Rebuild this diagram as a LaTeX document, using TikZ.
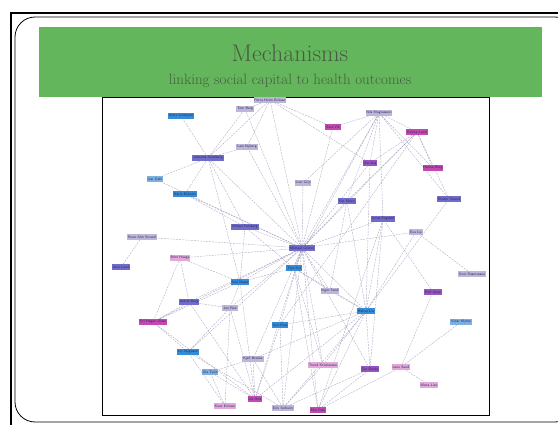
\documentclass[tikz,border=0pt]{standalone}
\usetikzlibrary{backgrounds}

\definecolor{banner}{RGB}{100,182,92}
\definecolor{titleclr}{RGB}{70,92,66}
\definecolor{pblue}{RGB}{52,140,215}
\definecolor{plblue}{RGB}{125,175,225}
\definecolor{plav}{RGB}{190,182,215}
\definecolor{ppurp}{RGB}{112,108,200}
\definecolor{pviol}{RGB}{150,84,190}
\definecolor{pmag}{RGB}{196,72,176}
\definecolor{ppink}{RGB}{226,168,216}
\definecolor{tieclr}{RGB}{145,138,175}
\definecolor{nametxt}{RGB}{40,40,95}

\begin{document}
\begin{tikzpicture}[x=1pt,y=-1pt,
  person/.style={rectangle,inner sep=.9pt,minimum height=6pt,font=\sffamily\fontsize{3.6}{4}\selectfont,text=nametxt},
  tie/.style={draw=tieclr,line width=.4pt,dash pattern=on 2pt off 1pt,opacity=.7}
]
\useasboundingbox (0,0) rectangle (558,425);

% slide frame
\draw[line width=1.8pt] (11,425) -- (11,13) -- (558,13);
\draw[line width=.8pt,rounded corners=20pt] (15,17) rectangle (575,422);

% network picture
\draw[line width=.9pt] (102,97) rectangle (489,415);

\node[person,fill=pblue]  (A) at (181,116) {Anna Lindqvist};
\node[person,fill=plav]   (B) at (245,109) {Tom Berg};
\node[person,fill=plav]   (C) at (270,100) {Petra Holm Eriksen};
\node[person,fill=plav]   (D) at (247,147) {Lars Nyberg};
\node[person,fill=ppurp]  (E) at (208,158) {Johanna Sandberg};
\node[person,fill=plblue] (F) at (155,179) {Ivar Dahl};
\node[person,fill=pblue]  (G) at (185,194) {Karin Ekholm};
\node[person,fill=ppurp]  (H) at (245,227) {Mikael Forsberg};
\node[person,fill=plav]   (I) at (142,237) {Rune Alm Strand};
\node[person,fill=plav]   (J) at (379,113) {Nils Magnusson};
\node[person,fill=pmag]   (K) at (333,127) {Sara Vik};
\node[person,fill=pmag]   (L) at (417,132) {Emma Lund};
\node[person,fill=pviol]  (M) at (370,163) {Ole Aas};
\node[person,fill=pmag]   (N) at (433,168) {Hanna Borg};
\node[person,fill=plav]   (O) at (303,183) {Linn Grip};
\node[person,fill=ppurp]  (P) at (347,201) {Per Moen};
\node[person,fill=ppurp]  (Q) at (449,199) {Kristin Strand};
\node[person,fill=ppurp]  (R) at (383,219) {Jonas Engdahl};
\node[person,fill=plav]   (S) at (416,232) {Eva Lie};
\node[person,fill=ppurp]  (T) at (302,248) {Michael Grimm};
\node[person,fill=ppink]  (U) at (180,258) {Britt Hauge};
\node[person,fill=ppurp]  (V) at (121,267) {Arne Lund};
\node[person,fill=pblue]  (W) at (294,268) {Tore Sol};
\node[person,fill=pblue]  (X) at (240,282) {Kari Nesse};
\node[person,fill=ppurp]  (Y) at (189,302) {Astrid Berg};
\node[person,fill=plav]   (Z) at (230,308) {Jon Rud};
\node[person,fill=pmag]   (a) at (153,322) {Siri Hagen Olsen};
\node[person,fill=pblue]  (b) at (280,325) {Geir Foss};
\node[person,fill=pblue]  (c) at (188,352) {Liv Nygaard};
\node[person,fill=plav]   (d) at (253,359) {Kjell Brekke};
\node[person,fill=plblue] (e) at (210,372) {Ola Tveit};
\node[person,fill=pmag]   (f) at (255,399) {Ida Holt};
\node[person,fill=ppink]  (g) at (225,406) {Knut Eriksen};
\node[person,fill=plav]   (h) at (283,408) {Erik Solheim};
\node[person,fill=pmag]   (i) at (318,410) {Mia Dale};
\node[person,fill=plav]   (j) at (472,274) {Unni Rasmussen};
\node[person,fill=pviol]  (k) at (433,292) {Rolf Aune};
\node[person,fill=plav]   (m) at (330,291) {Inger Sand};
\node[person,fill=pblue]  (l) at (366,311) {Halvor Lie};
\node[person,fill=plblue] (n) at (461,322) {Vidar Myhre};
\node[person,fill=ppink]  (o) at (323,365) {Trond Kristiansen};
\node[person,fill=pviol]  (p) at (370,369) {Gro Bakke};
\node[person,fill=ppink]  (q) at (401,367) {Lene Sund};
\node[person,fill=ppink]  (r) at (429,385) {Mona Lien};

\begin{pgfonlayer}{background}
\foreach \u/\v in {T/B,T/C,T/D,T/E,T/G,T/H,T/J,T/K,T/M,T/O,T/P,T/R,T/U,T/W,T/X,T/Y,
  T/Z,T/b,T/c,T/d,T/f,T/h,T/i,T/l,T/m,T/o,T/p,T/a,T/I,T/S,T/L,T/F,
  l/W,l/P,l/R,l/M,l/b,l/f,l/h,l/i,l/p,l/o,l/Q,l/S,l/d,l/m,
  J/M,J/K,J/L,J/P,J/O,J/N,J/Q,J/R,J/W,L/M,L/N,L/Q,L/P,L/b,
  E/B,E/C,E/D,E/G,E/F,E/H,E/X,E/A,C/B,C/D,C/K,C/M,
  f/Y,f/Z,f/d,f/e,f/b,f/X,f/a,h/c,h/d,h/b,h/o,h/p,g/e,g/c,g/Z,i/W,i/p,i/q,i/R,
  U/Y,U/X,U/a,V/I,Y/a,Y/Z,a/X,a/c,c/Z,e/d,X/W,X/Z,H/G,H/X,H/W,q/k,q/r,p/R,
  o/W,m/W,m/P,k/R,n/q,j/S}
  \draw[tie] (\u) -- (\v);
\end{pgfonlayer}

% title banner
\fill[banner] (39,27) rectangle (542,97);
\node[font=\fontsize{24}{26}\selectfont,text=titleclr] (title) at (290,53) {Mechanisms};
\node[font=\fontsize{15}{17}\selectfont,text=titleclr] (subtitle) at (290,81) {linking social capital to health outcomes};
\end{tikzpicture}
\end{document}
